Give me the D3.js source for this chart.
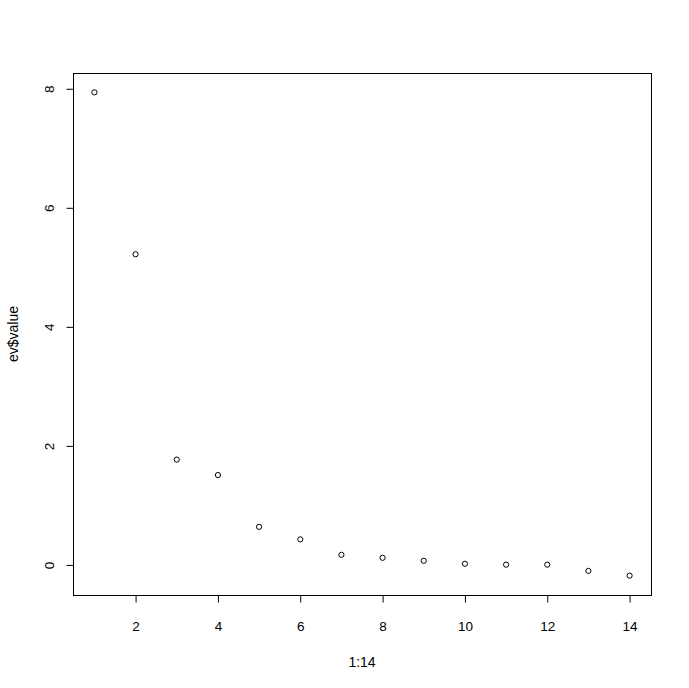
<!DOCTYPE html>
<html>
<head>
<meta charset="utf-8">
<script src="https://cdn.jsdelivr.net/npm/d3@7"></script>
<style>
  body { margin: 0; background: #fff; }
  text { font-family: "Liberation Sans", Arial, sans-serif; fill: #000; }
</style>
</head>
<body>
<div id="chart"></div>
<script>
// eigenvalues
const xs = [1, 2, 3, 4, 5, 6, 7, 8, 9, 10, 11, 12, 13, 14];
const values = [7.94, 5.22, 1.77, 1.51, 0.64, 0.43, 0.17, 0.12, 0.07, 0.02, 0.005, 0.005, -0.1, -0.18];
const xTicks = [2, 4, 6, 8, 10, 12, 14];
const yTicks = [0, 2, 4, 6, 8];

const width = 689, height = 688;
const mLeft = 73, mRight = 651, mTop = 73, mBottom = 595;
const tickFont = 13.5;

const svg = d3.select("#chart").append("svg")
    .attr("width", width)
    .attr("height", height);

// R style 4% padding
const xr = d3.extent(xs), yr = d3.extent(values);
const xpad = (xr[1] - xr[0]) * 0.04, ypad = (yr[1] - yr[0]) * 0.04;

const x = d3.scaleLinear().domain([xr[0] - xpad, xr[1] + xpad]).range([mLeft, mRight]);
const y = d3.scaleLinear().domain([yr[0] - ypad, yr[1] + ypad]).range([mBottom, mTop]);

svg.append("rect")
    .attr("x", mLeft + 0.5).attr("y", mTop + 0.5)
    .attr("width", mRight - mLeft).attr("height", mBottom - mTop)
    .attr("fill", "none").attr("stroke", "#000");

const xAxis = svg.append("g")
    .attr("transform", "translate(0," + (mBottom + 0.5) + ")")
    .call(d3.axisBottom(x).tickValues(xTicks).tickSize(7).tickFormat(d3.format("d")));
xAxis.select(".domain").remove();
xAxis.selectAll("line").attr("stroke", "#000");
xAxis.selectAll("text")
    .attr("font-size", tickFont)
    .style("font-family", "Liberation Sans, Arial, sans-serif")
    .attr("y", 35).attr("dy", null);

const yAxis = svg.append("g")
    .attr("transform", "translate(" + (mLeft + 0.5) + ",0)")
    .call(d3.axisLeft(y).tickValues(yTicks).tickSize(7).tickFormat(d3.format("d")));
yAxis.select(".domain").remove();
yAxis.selectAll("line").attr("stroke", "#000");
// tick labels turned like R does (las = 0)
yAxis.selectAll("text")
    .attr("font-size", tickFont)
    .style("font-family", "Liberation Sans, Arial, sans-serif")
    .attr("x", 0).attr("y", 0).attr("dy", null)
    .attr("text-anchor", "middle")
    .attr("transform", "translate(-19.5,0) rotate(-90)");

svg.selectAll("circle.pt")
    .data(xs)
    .enter()
    .append("circle")
    .attr("class", "pt")
    .attr("cx", d => x(d))
    .attr("cy", (d, i) => y(values[i]))
    .attr("r", 2.6)
    .attr("fill", "none")
    .attr("stroke", "#000")
    .attr("stroke-width", 1);

svg.append("text")
    .attr("x", (mLeft + mRight) / 2).attr("y", 667)
    .attr("text-anchor", "middle")
    .attr("font-size", 14)
    .text("1:14");

svg.append("text")
    .attr("transform", "translate(17.5," + (mTop + mBottom) / 2 + ") rotate(-90)")
    .attr("text-anchor", "middle")
    .attr("font-size", 14)
    .text("ev$value");
</script>
</body>
</html>
